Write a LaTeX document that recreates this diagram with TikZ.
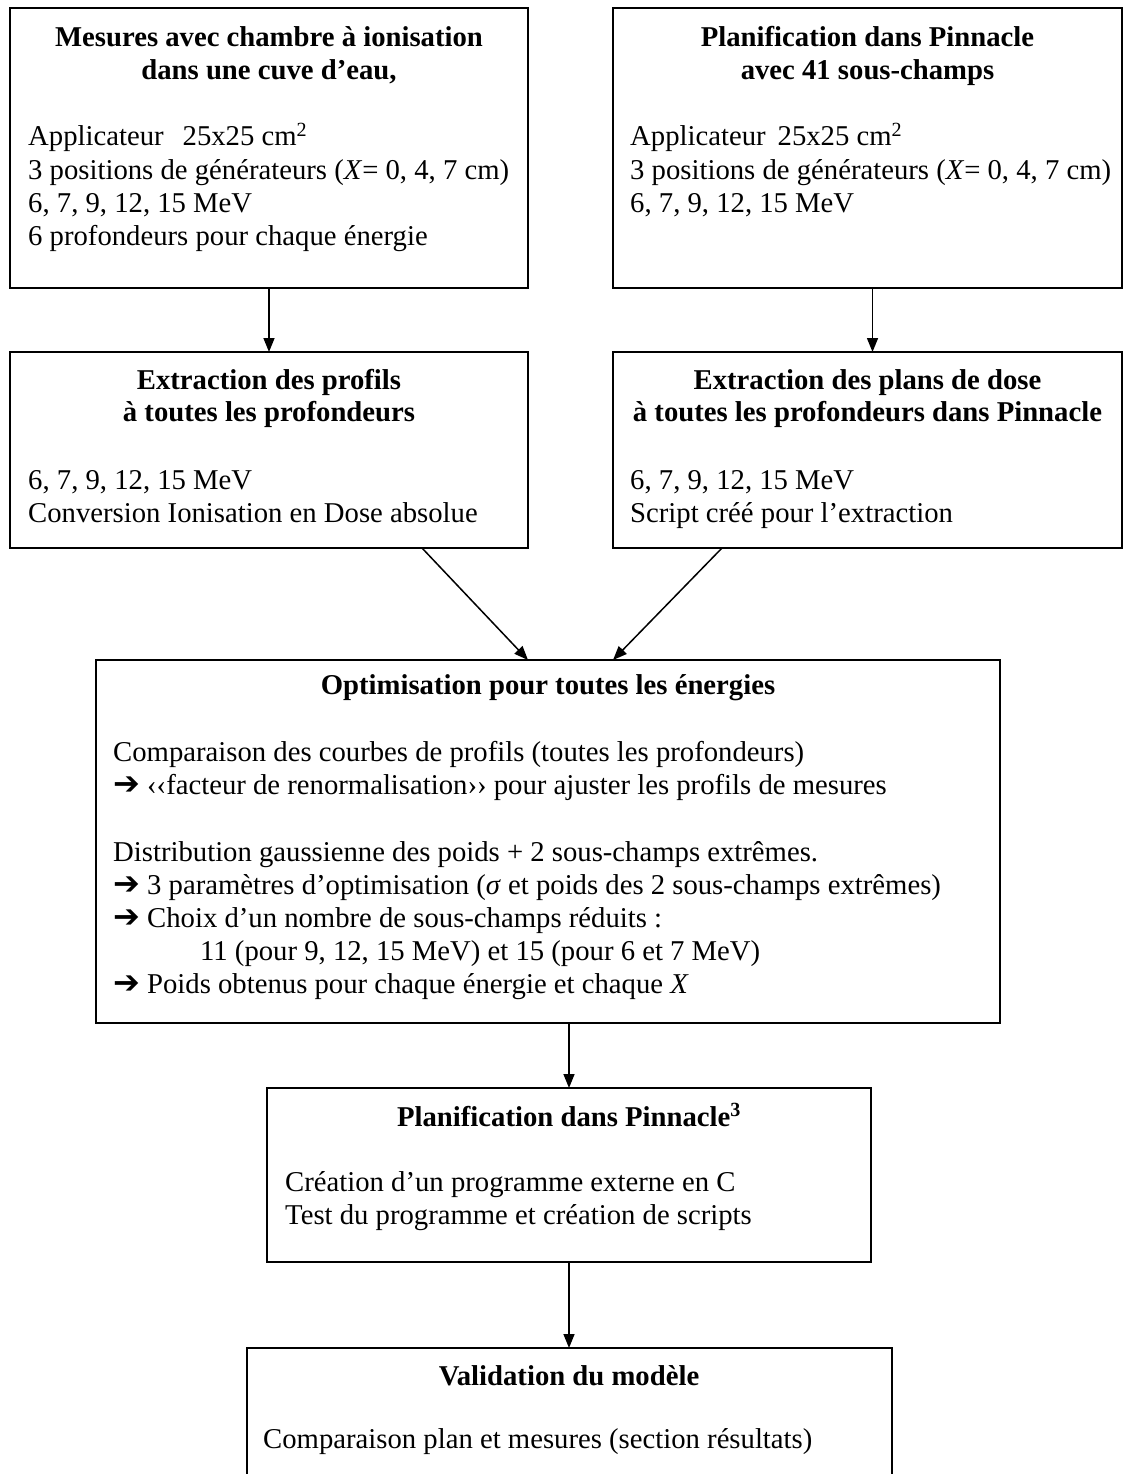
\documentclass[tikz,border=0pt]{standalone}
\usepackage{fontspec}
\setmainfont{Liberation Serif}
\newfontfamily\arrowfont{DejaVu Sans}
\newcommand{\ra}{{\arrowfont\fontsize{32}{33}\selectfont ➔}}
\usetikzlibrary{arrows.meta}
\begin{document}
\begin{tikzpicture}[x=1pt,y=-1pt,
  box/.style={draw=black,line width=1.6pt,inner sep=0pt,outer sep=0pt,fill=none},
  txt/.style={anchor=base west,inner sep=0pt,font=\fontsize{28.7}{33}\selectfont},
  ttl/.style={anchor=base,inner sep=0pt,font=\fontsize{28.7}{33}\selectfont\bfseries},
  arr/.style={line width=1.5pt,-{Triangle[length=14pt,width=11pt]}}]
\useasboundingbox[fill=white] (0,0) rectangle (1124,1474);
% boxes
\node[box,minimum width=518pt,minimum height=280pt] (b1) at (269,148) {};
\node[box,minimum width=509pt,minimum height=280pt] (b2) at (867.5,148) {};
\node[box,minimum width=518pt,minimum height=196pt] (b3) at (269,450) {};
\node[box,minimum width=509pt,minimum height=196pt] (b4) at (867.5,450) {};
\node[box,minimum width=904pt,minimum height=363pt] (b5) at (548,841.5) {};
\node[box,minimum width=604pt,minimum height=174pt] (b6) at (569,1175) {};
\node[box,minimum width=645pt,minimum height=172pt] (b7) at (569.5,1434) {};
% box 1
\node[ttl] (t1a) at (269,47) {Mesures avec chambre à ionisation};
\node[ttl] (t1b) at (269,80) {dans une cuve d’eau,};
\node[txt] (t1c) at (28,146) {Applicateur\hspace{19pt}25x25 cm\textsuperscript{2}};
\node[txt] (t1d) at (28,179) {3 positions de générateurs (\textit{X}= 0, 4, 7 cm)};
\node[txt] (t1e) at (28,212) {6, 7, 9, 12, 15 MeV};
\node[txt] (t1f) at (28,245) {6 profondeurs pour chaque énergie};
% box 2
\node[ttl] (t2a) at (867.5,47) {Planification dans Pinnacle};
\node[ttl] (t2b) at (867.5,80) {avec 41 sous-champs};
\node[txt] (t2c) at (630,146) {Applicateur\hspace{12pt}25x25 cm\textsuperscript{2}};
\node[txt] (t2d) at (630,179) {3 positions de générateurs (\textit{X}= 0, 4, 7 cm)};
\node[txt] (t2e) at (630,212) {6, 7, 9, 12, 15 MeV};
% box 3
\node[ttl] (t3a) at (269,389) {Extraction des profils};
\node[ttl] (t3b) at (269,421) {à toutes les profondeurs};
\node[txt] (t3c) at (28,489) {6, 7, 9, 12, 15 MeV};
\node[txt] (t3d) at (28,522) {Conversion Ionisation en Dose absolue};
% box 4
\node[ttl] (t4a) at (867.5,389) {Extraction des plans de dose};
\node[ttl] (t4b) at (867.5,421) {à toutes les profondeurs dans Pinnacle};
\node[txt] (t4c) at (630,489) {6, 7, 9, 12, 15 MeV};
\node[txt] (t4d) at (630,522) {Script créé pour l’extraction};
% box 5
\node[ttl] (t5a) at (548,694) {Optimisation pour toutes les énergies};
\node[txt] (t5b) at (113,761) {Comparaison des courbes de profils (toutes les profondeurs)};
\node[txt] (t5c) at (113,794) {\ra{} ‹‹facteur de renormalisation›› pour ajuster les profils de mesures};
\node[txt] (t5d) at (113,861) {Distribution gaussienne des poids + 2 sous-champs extrêmes.};
\node[txt] (t5e) at (113,894) {\ra{} 3 paramètres d’optimisation (\textit{σ} et poids des 2 sous-champs extrêmes)};
\node[txt] (t5f) at (113,927) {\ra{} Choix d’un nombre de sous-champs réduits :};
\node[txt] (t5g) at (200,960) {11 (pour 9, 12, 15 MeV) et 15 (pour 6 et 7 MeV)};
\node[txt] (t5h) at (113,993) {\ra{} Poids obtenus pour chaque énergie et chaque \textit{X}};
% box 6
\node[ttl] (t6a) at (569,1126) {Planification dans Pinnacle\textsuperscript{3}};
\node[txt] (t6b) at (285,1191) {Création d’un programme externe en C};
\node[txt] (t6c) at (285,1224) {Test du programme et création de scripts};
% box 7
\node[ttl] (t7a) at (569,1385) {Validation du modèle};
\node[txt] (t7b) at (263,1448) {Comparaison plan et mesures (section résultats)};
% arrows
\draw[arr] (b1.south) -- (b3.north);
\draw[arr] ([xshift=5pt]b2.south) -- ([xshift=5pt]b4.north);
\draw[arr] ([xshift=412pt]b3.south west) -- ([xshift=432pt]b5.north west);
\draw[arr] ([xshift=109pt]b4.south west) -- ([xshift=517pt]b5.north west);
\draw[arr] (b5.south -| b6.north) -- (b6.north);
\draw[arr] (b6.south) -- (b6.south |- b7.north);
\end{tikzpicture}
\end{document}
